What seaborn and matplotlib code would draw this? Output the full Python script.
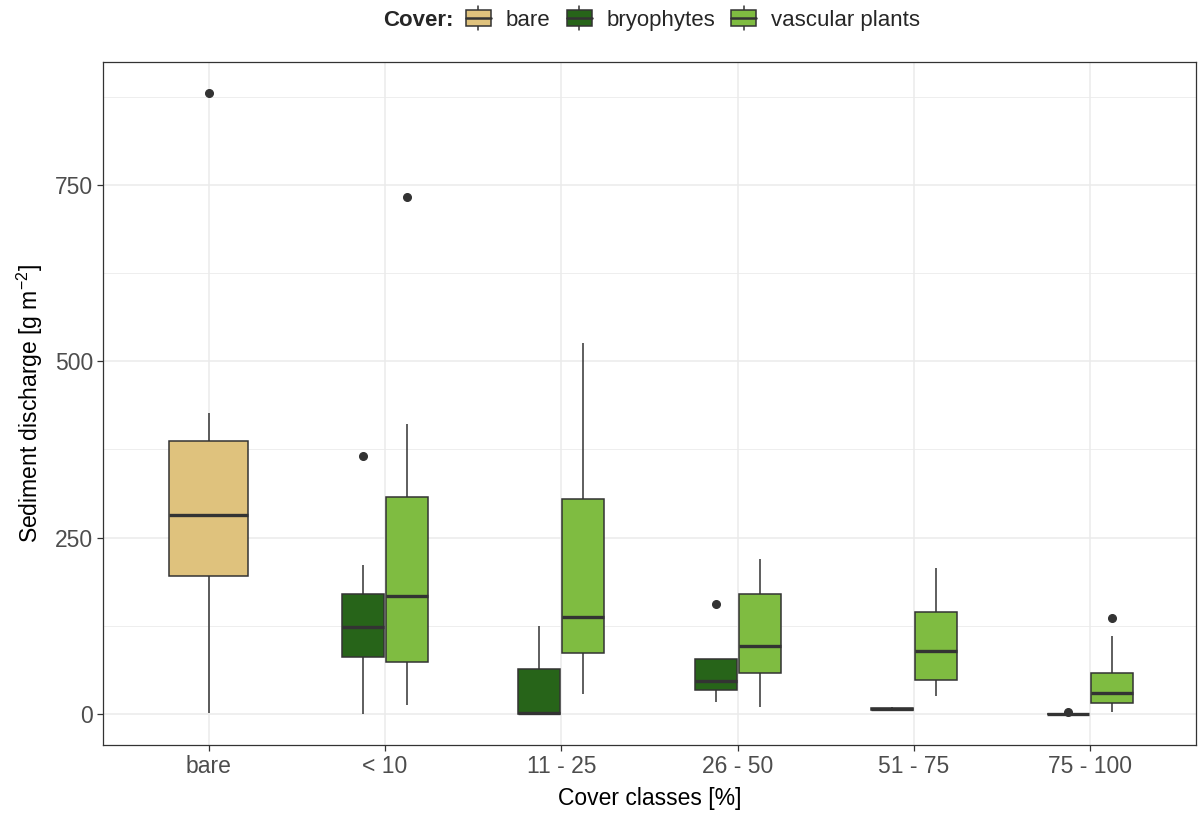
import numpy as np
import pandas as pd
import matplotlib
matplotlib.use("Agg")
import matplotlib.pyplot as plt
from matplotlib.patches import Patch, Rectangle
from matplotlib.lines import Line2D
from matplotlib.legend_handler import HandlerBase
import seaborn as sns

# ---- data ----
classes = ["bare", "< 10", "11 - 25", "26 - 50", "51 - 75", "75 - 100"]
covers = ["bare", "bryophytes", "vascular plants"]
colors = ["#DFC27D", "#276419", "#7FBC41"]

bare_bare = [2, 120, 196, 240, 282, 330, 387, 426, 880]
bryo_lt10 = [0.5, 40, 81, 100, 123, 150, 170, 211, 366]
vasc_lt10 = [13, 40, 74, 120, 167, 240, 308, 411, 732]
bryo_11_25 = [0, 0.3, 0.5, 1, 2, 30, 63.5, 100, 125]
vasc_11_25 = [28, 60, 87, 110, 137, 220, 304, 420, 526]
bryo_26_50 = [17.5, 25, 34, 40, 47, 60, 78, 78, 156]
vasc_26_50 = [10, 35, 58, 80, 96, 130, 170, 200, 220]
bryo_51_75 = [4, 4.5, 5, 6, 7, 8, 9, 9.5, 10]
vasc_51_75 = [26, 35, 48, 70, 89.5, 120, 144, 180, 207]
bryo_75_100 = [0, 0, 0, 0.1, 0.2, 0.4, 0.6, 0.8, 2.5]
vasc_75_100 = [2.4, 8, 15.6, 22, 29, 45, 58, 110, 136]

groups = [
    ("bare", "bare", bare_bare),
    ("< 10", "bryophytes", bryo_lt10),
    ("< 10", "vascular plants", vasc_lt10),
    ("11 - 25", "bryophytes", bryo_11_25),
    ("11 - 25", "vascular plants", vasc_11_25),
    ("26 - 50", "bryophytes", bryo_26_50),
    ("26 - 50", "vascular plants", vasc_26_50),
    ("51 - 75", "bryophytes", bryo_51_75),
    ("51 - 75", "vascular plants", vasc_51_75),
    ("75 - 100", "bryophytes", bryo_75_100),
    ("75 - 100", "vascular plants", vasc_75_100),
]
rows = []
for cls, cov, vals in groups:
    for v in vals:
        rows.append({"cls": cls, "cover": cov, "value": v})
df = pd.DataFrame(rows)

# ---- style ----
sns.set_theme(style="white")
plt.rcParams["font.family"] = ["Liberation Sans", "DejaVu Sans"]
plt.rcParams["mathtext.default"] = "regular"

FS = 16.5
LFS = 16

fig = plt.figure(figsize=(11.98, 8.18), dpi=100)
ax = fig.add_axes([103 / 1198, 1 - 745 / 818, (1196 - 103) / 1198, (745 - 62) / 818])

edge = "#333333"
common = dict(
    linecolor=edge, linewidth=1.1, fliersize=5.5,
    flierprops=dict(marker="o", markerfacecolor=edge, markeredgecolor=edge),
    medianprops=dict(linewidth=2.4, color=edge),
    whiskerprops=dict(color=edge),
    capprops=dict(linewidth=0),
    saturation=1,
)

bare_df = df[df["cover"] == "bare"]
sns.boxplot(data=bare_df, x="cls", y="value", order=classes, color=colors[0],
            width=0.45, ax=ax, **common)
veg_df = df[df["cover"] != "bare"]
sns.boxplot(data=veg_df, x="cls", y="value", order=classes, hue="cover",
            hue_order=covers[1:], palette=colors[1:], width=0.5, gap=0.05,
            dodge=True, legend=False, ax=ax, **common)

ax.set_xlim(-0.6, 5.6)
ax.set_ylim(-44, 924)
ax.set_yticks([0, 250, 500, 750])
ax.set_yticks([125, 375, 625, 875], minor=True)
ax.set_xticks(range(len(classes)))
ax.set_xticklabels(classes)
ax.grid(True, which="major", color="#EBEBEB", linewidth=1.1)
ax.grid(True, which="minor", axis="y", color="#EBEBEB", linewidth=0.6)
ax.set_axisbelow(True)
for s in ax.spines.values():
    s.set_visible(True)
    s.set_color("#333333")
    s.set_linewidth(0.9)
ax.tick_params(axis="both", which="major", length=4, width=0.9, color="#333333",
               labelsize=FS, labelcolor="#4D4D4D", bottom=True, left=True, pad=3)
ax.tick_params(axis="y", which="minor", length=0, left=False)
ax.set_xlabel("Cover classes [%]", fontsize=FS, color="black", labelpad=7)
ax.set_ylabel("Sediment discharge [g m$^{-2}$]", fontsize=FS, color="black", labelpad=7)


# ---- legend with box-shaped keys ----
class BoxKeyHandler(HandlerBase):
    def create_artists(self, legend, orig_handle, xdescent, ydescent, width, height,
                       fontsize, trans):
        fc = orig_handle.get_facecolor()
        cx = -xdescent + width / 2
        y0 = -ydescent
        top = y0 + height * 1.1
        bot = y0 - height * 0.1
        bh = height * 0.82
        by = y0 + (height - bh) / 2
        wl = Line2D([cx, cx], [bot, top], color=edge, linewidth=1.1, transform=trans)
        rect = Rectangle((-xdescent, by), width, bh, facecolor=fc, edgecolor=edge,
                         linewidth=1.1, transform=trans)
        med = Line2D([-xdescent, -xdescent + width], [by + bh / 2, by + bh / 2],
                     color=edge, linewidth=1.8, transform=trans)
        return [wl, rect, med]


handles = [Patch(facecolor=c, edgecolor=edge) for c in colors]
fig.text(383 / 1198, 1 - 18 / 818, "Cover:", fontsize=LFS, fontweight="bold",
         va="center_baseline", ha="left")
fig.legend(handles, covers, loc="center left", bbox_to_anchor=(466 / 1198, 1 - 19.5 / 818),
           ncol=3, frameon=False, fontsize=LFS, handlelength=1.12, handleheight=1.0,
           handletextpad=0.68, columnspacing=0.72, borderaxespad=0, borderpad=0,
           handler_map={Patch: BoxKeyHandler()})

fig.savefig("out.png", dpi=100)
